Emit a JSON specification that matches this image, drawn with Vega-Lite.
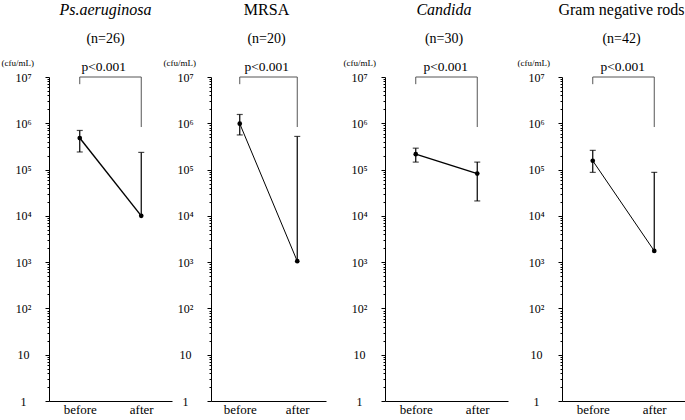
{
  "$schema": "https://vega.github.io/schema/vega-lite/v6.json",
  "padding": {"left": 1, "top": 2, "right": 0, "bottom": 0},
  "background": "white",
  "datasets": {
    "stats": [
      {"organism": "Ps.aeruginosa", "time": "before", "mean": 480000, "lo": 240000, "hi": 700000},
      {"organism": "Ps.aeruginosa", "time": "after", "mean": 10000, "lo": 10000, "hi": 235000},
      {"organism": "MRSA", "time": "before", "mean": 980000, "lo": 560000, "hi": 1550000},
      {"organism": "MRSA", "time": "after", "mean": 1050, "lo": 1050, "hi": 520000},
      {"organism": "Candida", "time": "before", "mean": 215000, "lo": 145000, "hi": 290000},
      {"organism": "Candida", "time": "after", "mean": 82000, "lo": 21000, "hi": 145000},
      {"organism": "Gram negative rods", "time": "before", "mean": 155000, "lo": 87000, "hi": 260000},
      {"organism": "Gram negative rods", "time": "after", "mean": 1750, "lo": 1750, "hi": 87000}
    ],
    "legs": [
      {"organism": "Ps.aeruginosa", "time": "before", "bottom": 7000000, "top": 10000000},
      {"organism": "Ps.aeruginosa", "time": "after", "bottom": 830000, "top": 10000000},
      {"organism": "MRSA", "time": "before", "bottom": 7000000, "top": 10000000},
      {"organism": "MRSA", "time": "after", "bottom": 830000, "top": 10000000},
      {"organism": "Candida", "time": "before", "bottom": 7000000, "top": 10000000},
      {"organism": "Candida", "time": "after", "bottom": 830000, "top": 10000000},
      {"organism": "Gram negative rods", "time": "before", "bottom": 7000000, "top": 10000000},
      {"organism": "Gram negative rods", "time": "after", "bottom": 830000, "top": 10000000}
    ],
    "brackets": [
      {"organism": "Ps.aeruginosa", "from": "before", "to": "after", "level": 10000000, "p": "p<0.001"},
      {"organism": "MRSA", "from": "before", "to": "after", "level": 10000000, "p": "p<0.001"},
      {"organism": "Candida", "from": "before", "to": "after", "level": 10000000, "p": "p<0.001"},
      {"organism": "Gram negative rods", "from": "before", "to": "after", "level": 10000000, "p": "p<0.001"}
    ]
  },
  "config": {
    "font": "Liberation Serif",
    "view": {"stroke": null},
    "text": {"font": "Liberation Serif", "fontWeight": "normal"},
    "axis": {"labelFont": "Liberation Serif", "titleFont": "Liberation Serif", "domainColor": "black", "tickColor": "black", "labelColor": "black", "titleColor": "black", "grid": false},
    "title": {"font": "Liberation Serif", "fontSize": 16, "fontWeight": "normal", "subtitleFont": "Liberation Serif", "subtitleFontSize": 14, "color": "black", "subtitleColor": "black", "anchor": "middle", "frame": "group", "offset": 12, "subtitlePadding": 14, "subtitleFontStyle": "normal"},
    "concat": {"spacing": 39}
  },
  "bounds": "flush",
  "hconcat": [
    {
      "width": 123, "height": 324,
      "title": {"text": "Ps.aeruginosa", "subtitle": "(n=26)", "fontStyle": "italic", "dx": -5},
      "layer": [
        {"data": {"name": "stats"}, "transform": [{"filter": "datum.organism == 'Ps.aeruginosa'"}],
         "mark": {"type": "rule", "color": "black", "strokeWidth": 1.2},
         "encoding": {
           "x": {"field": "time", "type": "nominal", "scale": {"type": "point", "domain": ["before", "after"], "padding": 0.5, "range": [0, 123]},
                 "axis": {"title": null, "ticks": false, "labelAngle": 0, "labelFont": "Liberation Serif", "labelFontSize": 13, "labelPadding": 2, "domainColor": "black"}},
           "y": {"field": "lo", "type": "quantitative", "scale": {"type": "log", "domain": [1, 10000000], "nice": false},
                 "axis": {"title": "(cfu/mL)", "titleFont": "Liberation Serif", "titleAngle": 0, "titleAlign": "left", "titleBaseline": "alphabetic", "titleX": -48, "titleY": -12, "titleFontSize": 9, "titleFontWeight": "normal",
                          "values": [1,2,3,4,5,6,7,8,9,10,20,30,40,50,60,70,80,90,100,200,300,400,500,600,700,800,900,1000,2000,3000,4000,5000,6000,7000,8000,9000,10000,20000,30000,40000,50000,60000,70000,80000,90000,100000,200000,300000,400000,500000,600000,700000,800000,900000,1000000,2000000,3000000,4000000,5000000,6000000,7000000,8000000,9000000,10000000],
                          "labelExpr": "abs(log(datum.value)/LN10 - round(log(datum.value)/LN10)) < 0.000001 ? ['1','10','10²','10³','10⁴','10⁵','10⁶','10⁷'][round(log(datum.value)/LN10)] : ''",
                          "labelFont": "Liberation Serif", "labelOverlap": false, "labelAlign": "center", "labelBaseline": "middle", "labelPadding": 22, "labelFontSize": 12,
                          "tickSize": {"condition": {"test": "abs(log(datum.value)/LN10 - round(log(datum.value)/LN10)) < 0.000001", "value": 4}, "value": 2}}},
           "y2": {"field": "hi"}
         }},
        {"data": {"name": "stats"}, "transform": [{"filter": "datum.organism == 'Ps.aeruginosa'"}],
         "mark": {"type": "tick", "color": "black", "size": 6, "thickness": 1.2, "orient": "horizontal"},
         "encoding": {"x": {"field": "time", "type": "nominal"}, "y": {"field": "hi", "type": "quantitative"}}},
        {"data": {"name": "stats"}, "transform": [{"filter": "datum.organism == 'Ps.aeruginosa' && datum.lo < datum.mean"}],
         "mark": {"type": "tick", "color": "black", "size": 6, "thickness": 1.2, "orient": "horizontal"},
         "encoding": {"x": {"field": "time", "type": "nominal"}, "y": {"field": "lo", "type": "quantitative"}}},
        {"data": {"name": "stats"}, "transform": [{"filter": "datum.organism == 'Ps.aeruginosa'"}],
         "mark": {"type": "line", "color": "black", "strokeWidth": 1.4},
         "encoding": {"x": {"field": "time", "type": "nominal"}, "y": {"field": "mean", "type": "quantitative"}}},
        {"data": {"name": "stats"}, "transform": [{"filter": "datum.organism == 'Ps.aeruginosa'"}],
         "mark": {"type": "circle", "color": "black", "size": 22, "opacity": 1},
         "encoding": {"x": {"field": "time", "type": "nominal"}, "y": {"field": "mean", "type": "quantitative"}}},
        {"data": {"name": "legs"}, "transform": [{"filter": "datum.organism == 'Ps.aeruginosa'"}],
         "mark": {"type": "rule", "color": "#555555", "strokeWidth": 1},
         "encoding": {"x": {"field": "time", "type": "nominal"}, "y": {"field": "bottom", "type": "quantitative"}, "y2": {"field": "top"}}},
        {"data": {"name": "brackets"}, "transform": [{"filter": "datum.organism == 'Ps.aeruginosa'"}],
         "mark": {"type": "rule", "color": "#555555", "strokeWidth": 1},
         "encoding": {"x": {"field": "from", "type": "nominal"}, "x2": {"field": "to"}, "y": {"field": "level", "type": "quantitative"}}},
        {"data": {"name": "brackets"}, "transform": [{"filter": "datum.organism == 'Ps.aeruginosa'"}],
         "mark": {"type": "text", "color": "black", "font": "Liberation Serif", "fontWeight": "normal", "fontSize": 13.5, "align": "center", "baseline": "alphabetic", "dx": 24, "dy": -6},
         "encoding": {"x": {"field": "from", "type": "nominal"}, "y": {"field": "level", "type": "quantitative"}, "text": {"field": "p"}}}
      ]
    },
    {
      "width": 135, "height": 324,
      "title": {"text": "MRSA", "subtitle": "(n=20)", "fontStyle": "normal", "dx": -12},
      "layer": [
        {"data": {"name": "stats"}, "transform": [{"filter": "datum.organism == 'MRSA'"}],
         "mark": {"type": "rule", "color": "black", "strokeWidth": 1.2},
         "encoding": {
           "x": {"field": "time", "type": "nominal", "scale": {"type": "point", "domain": ["before", "after"], "padding": 0.5, "range": [0, 115]},
                 "axis": {"title": null, "ticks": false, "labelAngle": 0, "labelFont": "Liberation Serif", "labelFontSize": 13, "labelPadding": 2, "domainColor": "black"}},
           "y": {"field": "lo", "type": "quantitative", "scale": {"type": "log", "domain": [1, 10000000], "nice": false},
                 "axis": {"title": "(cfu/mL)", "titleFont": "Liberation Serif", "titleAngle": 0, "titleAlign": "left", "titleBaseline": "alphabetic", "titleX": -48, "titleY": -12, "titleFontSize": 9, "titleFontWeight": "normal",
                          "values": [1,2,3,4,5,6,7,8,9,10,20,30,40,50,60,70,80,90,100,200,300,400,500,600,700,800,900,1000,2000,3000,4000,5000,6000,7000,8000,9000,10000,20000,30000,40000,50000,60000,70000,80000,90000,100000,200000,300000,400000,500000,600000,700000,800000,900000,1000000,2000000,3000000,4000000,5000000,6000000,7000000,8000000,9000000,10000000],
                          "labelExpr": "abs(log(datum.value)/LN10 - round(log(datum.value)/LN10)) < 0.000001 ? ['1','10','10²','10³','10⁴','10⁵','10⁶','10⁷'][round(log(datum.value)/LN10)] : ''",
                          "labelFont": "Liberation Serif", "labelOverlap": false, "labelAlign": "center", "labelBaseline": "middle", "labelPadding": 22, "labelFontSize": 12,
                          "tickSize": {"condition": {"test": "abs(log(datum.value)/LN10 - round(log(datum.value)/LN10)) < 0.000001", "value": 4}, "value": 2}}},
           "y2": {"field": "hi"}
         }},
        {"data": {"name": "stats"}, "transform": [{"filter": "datum.organism == 'MRSA'"}],
         "mark": {"type": "tick", "color": "black", "size": 6, "thickness": 1.2, "orient": "horizontal"},
         "encoding": {"x": {"field": "time", "type": "nominal"}, "y": {"field": "hi", "type": "quantitative"}}},
        {"data": {"name": "stats"}, "transform": [{"filter": "datum.organism == 'MRSA' && datum.lo < datum.mean"}],
         "mark": {"type": "tick", "color": "black", "size": 6, "thickness": 1.2, "orient": "horizontal"},
         "encoding": {"x": {"field": "time", "type": "nominal"}, "y": {"field": "lo", "type": "quantitative"}}},
        {"data": {"name": "stats"}, "transform": [{"filter": "datum.organism == 'MRSA'"}],
         "mark": {"type": "line", "color": "black", "strokeWidth": 1},
         "encoding": {"x": {"field": "time", "type": "nominal"}, "y": {"field": "mean", "type": "quantitative"}}},
        {"data": {"name": "stats"}, "transform": [{"filter": "datum.organism == 'MRSA'"}],
         "mark": {"type": "circle", "color": "black", "size": 22, "opacity": 1},
         "encoding": {"x": {"field": "time", "type": "nominal"}, "y": {"field": "mean", "type": "quantitative"}}},
        {"data": {"name": "legs"}, "transform": [{"filter": "datum.organism == 'MRSA'"}],
         "mark": {"type": "rule", "color": "#555555", "strokeWidth": 1},
         "encoding": {"x": {"field": "time", "type": "nominal"}, "y": {"field": "bottom", "type": "quantitative"}, "y2": {"field": "top"}}},
        {"data": {"name": "brackets"}, "transform": [{"filter": "datum.organism == 'MRSA'"}],
         "mark": {"type": "rule", "color": "#555555", "strokeWidth": 1},
         "encoding": {"x": {"field": "from", "type": "nominal"}, "x2": {"field": "to"}, "y": {"field": "level", "type": "quantitative"}}},
        {"data": {"name": "brackets"}, "transform": [{"filter": "datum.organism == 'MRSA'"}],
         "mark": {"type": "text", "color": "black", "font": "Liberation Serif", "fontWeight": "normal", "fontSize": 13.5, "align": "center", "baseline": "alphabetic", "dx": 27, "dy": -6},
         "encoding": {"x": {"field": "from", "type": "nominal"}, "y": {"field": "level", "type": "quantitative"}, "text": {"field": "p"}}}
      ]
    },
    {
      "width": 138, "height": 324,
      "title": {"text": "Candida", "subtitle": "(n=30)", "fontStyle": "italic", "dx": -10},
      "layer": [
        {"data": {"name": "stats"}, "transform": [{"filter": "datum.organism == 'Candida'"}],
         "mark": {"type": "rule", "color": "black", "strokeWidth": 1.2},
         "encoding": {
           "x": {"field": "time", "type": "nominal", "scale": {"type": "point", "domain": ["before", "after"], "padding": 0.5, "range": [0, 123]},
                 "axis": {"title": null, "ticks": false, "labelAngle": 0, "labelFont": "Liberation Serif", "labelFontSize": 13, "labelPadding": 2, "domainColor": "black"}},
           "y": {"field": "lo", "type": "quantitative", "scale": {"type": "log", "domain": [1, 10000000], "nice": false},
                 "axis": {"title": "(cfu/mL)", "titleFont": "Liberation Serif", "titleAngle": 0, "titleAlign": "left", "titleBaseline": "alphabetic", "titleX": -42, "titleY": -12, "titleFontSize": 9, "titleFontWeight": "normal",
                          "values": [1,2,3,4,5,6,7,8,9,10,20,30,40,50,60,70,80,90,100,200,300,400,500,600,700,800,900,1000,2000,3000,4000,5000,6000,7000,8000,9000,10000,20000,30000,40000,50000,60000,70000,80000,90000,100000,200000,300000,400000,500000,600000,700000,800000,900000,1000000,2000000,3000000,4000000,5000000,6000000,7000000,8000000,9000000,10000000],
                          "labelExpr": "abs(log(datum.value)/LN10 - round(log(datum.value)/LN10)) < 0.000001 ? ['1','10','10²','10³','10⁴','10⁵','10⁶','10⁷'][round(log(datum.value)/LN10)] : ''",
                          "labelFont": "Liberation Serif", "labelOverlap": false, "labelAlign": "center", "labelBaseline": "middle", "labelPadding": 22, "labelFontSize": 12,
                          "tickSize": {"condition": {"test": "abs(log(datum.value)/LN10 - round(log(datum.value)/LN10)) < 0.000001", "value": 4}, "value": 2}}},
           "y2": {"field": "hi"}
         }},
        {"data": {"name": "stats"}, "transform": [{"filter": "datum.organism == 'Candida'"}],
         "mark": {"type": "tick", "color": "black", "size": 6, "thickness": 1.2, "orient": "horizontal"},
         "encoding": {"x": {"field": "time", "type": "nominal"}, "y": {"field": "hi", "type": "quantitative"}}},
        {"data": {"name": "stats"}, "transform": [{"filter": "datum.organism == 'Candida' && datum.lo < datum.mean"}],
         "mark": {"type": "tick", "color": "black", "size": 6, "thickness": 1.2, "orient": "horizontal"},
         "encoding": {"x": {"field": "time", "type": "nominal"}, "y": {"field": "lo", "type": "quantitative"}}},
        {"data": {"name": "stats"}, "transform": [{"filter": "datum.organism == 'Candida'"}],
         "mark": {"type": "line", "color": "black", "strokeWidth": 1.4},
         "encoding": {"x": {"field": "time", "type": "nominal"}, "y": {"field": "mean", "type": "quantitative"}}},
        {"data": {"name": "stats"}, "transform": [{"filter": "datum.organism == 'Candida'"}],
         "mark": {"type": "circle", "color": "black", "size": 22, "opacity": 1},
         "encoding": {"x": {"field": "time", "type": "nominal"}, "y": {"field": "mean", "type": "quantitative"}}},
        {"data": {"name": "legs"}, "transform": [{"filter": "datum.organism == 'Candida'"}],
         "mark": {"type": "rule", "color": "#555555", "strokeWidth": 1},
         "encoding": {"x": {"field": "time", "type": "nominal"}, "y": {"field": "bottom", "type": "quantitative"}, "y2": {"field": "top"}}},
        {"data": {"name": "brackets"}, "transform": [{"filter": "datum.organism == 'Candida'"}],
         "mark": {"type": "rule", "color": "#555555", "strokeWidth": 1},
         "encoding": {"x": {"field": "from", "type": "nominal"}, "x2": {"field": "to"}, "y": {"field": "level", "type": "quantitative"}}},
        {"data": {"name": "brackets"}, "transform": [{"filter": "datum.organism == 'Candida'"}],
         "mark": {"type": "text", "color": "black", "font": "Liberation Serif", "fontWeight": "normal", "fontSize": 13.5, "align": "center", "baseline": "alphabetic", "dx": 30, "dy": -6},
         "encoding": {"x": {"field": "from", "type": "nominal"}, "y": {"field": "level", "type": "quantitative"}, "text": {"field": "p"}}}
      ]
    },
    {
      "width": 123, "height": 324,
      "title": {"text": "Gram negative rods", "subtitle": "(n=42)", "fontStyle": "normal", "dx": -2},
      "layer": [
        {"data": {"name": "stats"}, "transform": [{"filter": "datum.organism == 'Gram negative rods'"}],
         "mark": {"type": "rule", "color": "black", "strokeWidth": 1.2},
         "encoding": {
           "x": {"field": "time", "type": "nominal", "scale": {"type": "point", "domain": ["before", "after"], "padding": 0.5, "range": [0, 123]},
                 "axis": {"title": null, "ticks": false, "labelAngle": 0, "labelFont": "Liberation Serif", "labelFontSize": 13, "labelPadding": 2, "domainColor": "black"}},
           "y": {"field": "lo", "type": "quantitative", "scale": {"type": "log", "domain": [1, 10000000], "nice": false},
                 "axis": {"title": "(cfu/mL)", "titleFont": "Liberation Serif", "titleAngle": 0, "titleAlign": "left", "titleBaseline": "alphabetic", "titleX": -45, "titleY": -12, "titleFontSize": 9, "titleFontWeight": "normal",
                          "values": [1,2,3,4,5,6,7,8,9,10,20,30,40,50,60,70,80,90,100,200,300,400,500,600,700,800,900,1000,2000,3000,4000,5000,6000,7000,8000,9000,10000,20000,30000,40000,50000,60000,70000,80000,90000,100000,200000,300000,400000,500000,600000,700000,800000,900000,1000000,2000000,3000000,4000000,5000000,6000000,7000000,8000000,9000000,10000000],
                          "labelExpr": "abs(log(datum.value)/LN10 - round(log(datum.value)/LN10)) < 0.000001 ? ['1','10','10²','10³','10⁴','10⁵','10⁶','10⁷'][round(log(datum.value)/LN10)] : ''",
                          "labelFont": "Liberation Serif", "labelOverlap": false, "labelAlign": "center", "labelBaseline": "middle", "labelPadding": 22, "labelFontSize": 12,
                          "tickSize": {"condition": {"test": "abs(log(datum.value)/LN10 - round(log(datum.value)/LN10)) < 0.000001", "value": 4}, "value": 2}}},
           "y2": {"field": "hi"}
         }},
        {"data": {"name": "stats"}, "transform": [{"filter": "datum.organism == 'Gram negative rods'"}],
         "mark": {"type": "tick", "color": "black", "size": 6, "thickness": 1.2, "orient": "horizontal"},
         "encoding": {"x": {"field": "time", "type": "nominal"}, "y": {"field": "hi", "type": "quantitative"}}},
        {"data": {"name": "stats"}, "transform": [{"filter": "datum.organism == 'Gram negative rods' && datum.lo < datum.mean"}],
         "mark": {"type": "tick", "color": "black", "size": 6, "thickness": 1.2, "orient": "horizontal"},
         "encoding": {"x": {"field": "time", "type": "nominal"}, "y": {"field": "lo", "type": "quantitative"}}},
        {"data": {"name": "stats"}, "transform": [{"filter": "datum.organism == 'Gram negative rods'"}],
         "mark": {"type": "line", "color": "black", "strokeWidth": 1},
         "encoding": {"x": {"field": "time", "type": "nominal"}, "y": {"field": "mean", "type": "quantitative"}}},
        {"data": {"name": "stats"}, "transform": [{"filter": "datum.organism == 'Gram negative rods'"}],
         "mark": {"type": "circle", "color": "black", "size": 22, "opacity": 1},
         "encoding": {"x": {"field": "time", "type": "nominal"}, "y": {"field": "mean", "type": "quantitative"}}},
        {"data": {"name": "legs"}, "transform": [{"filter": "datum.organism == 'Gram negative rods'"}],
         "mark": {"type": "rule", "color": "#555555", "strokeWidth": 1},
         "encoding": {"x": {"field": "time", "type": "nominal"}, "y": {"field": "bottom", "type": "quantitative"}, "y2": {"field": "top"}}},
        {"data": {"name": "brackets"}, "transform": [{"filter": "datum.organism == 'Gram negative rods'"}],
         "mark": {"type": "rule", "color": "#555555", "strokeWidth": 1},
         "encoding": {"x": {"field": "from", "type": "nominal"}, "x2": {"field": "to"}, "y": {"field": "level", "type": "quantitative"}}},
        {"data": {"name": "brackets"}, "transform": [{"filter": "datum.organism == 'Gram negative rods'"}],
         "mark": {"type": "text", "color": "black", "font": "Liberation Serif", "fontWeight": "normal", "fontSize": 13.5, "align": "center", "baseline": "alphabetic", "dx": 30, "dy": -6},
         "encoding": {"x": {"field": "from", "type": "nominal"}, "y": {"field": "level", "type": "quantitative"}, "text": {"field": "p"}}}
      ]
    }
  ]
}
